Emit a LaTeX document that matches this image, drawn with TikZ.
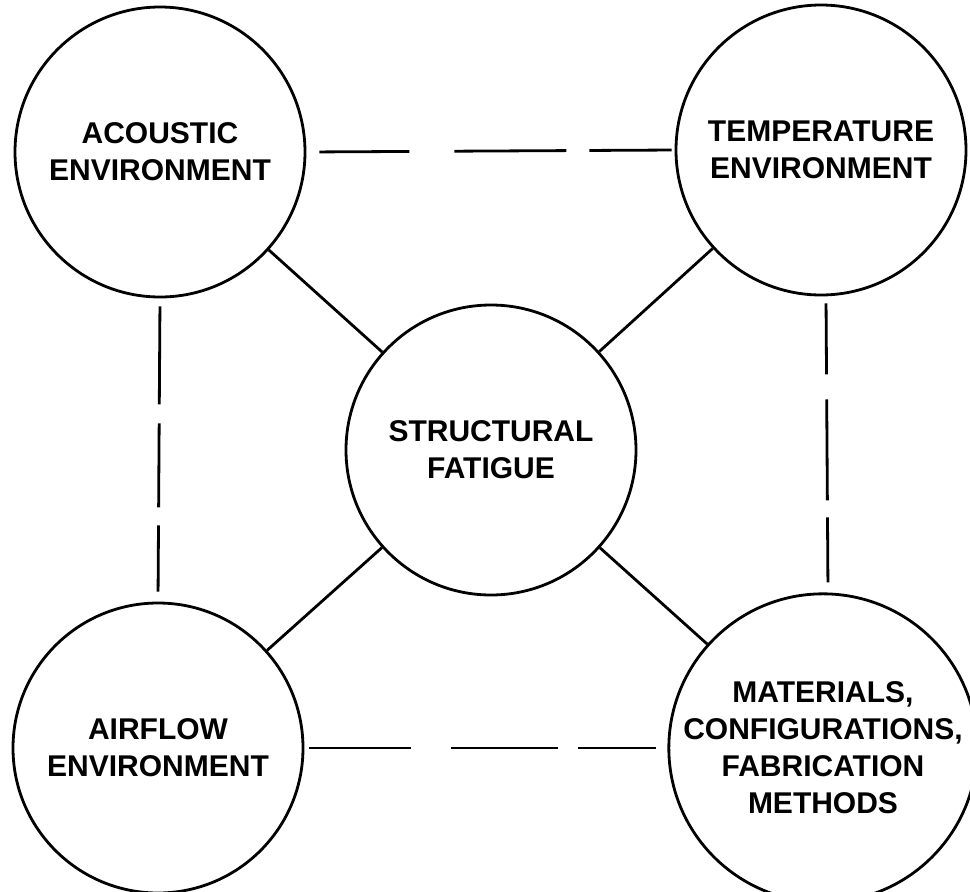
\documentclass[tikz,border=0pt]{standalone}
\usepackage{fontspec}
\setmainfont{Liberation Sans}
\begin{document}
\begin{tikzpicture}[x=1pt,y=-1pt,
  bubble/.style={draw,circle,line width=2.8pt,minimum size=290pt,inner sep=0pt,
    align=center,font=\bfseries\fontsize{30}{37}\selectfont},
  link/.style={line width=2.8pt},
  dlink/.style={line width=2.8pt}]
\useasboundingbox (0,0) rectangle (970,892);
\node[bubble] (ac) at (160,152) {ACOUSTIC\\ENVIRONMENT};
\node[bubble] (te) at (821,150) {TEMPERATURE\\ENVIRONMENT};
\node[bubble] (sf) at (491,450) {STRUCTURAL\\FATIGUE};
\node[bubble] (af) at (158,748) {AIRFLOW\\ENVIRONMENT};
\node[bubble] (ma) at (823,748) {MATERIALS,\\CONFIGURATIONS,\\FABRICATION\\METHODS};
\draw[link] (ac) -- (sf);
\draw[link] (te) -- (sf);
\draw[link] (af) -- (sf);
\draw[link] (ma) -- (sf);
\draw[dlink,shorten <=13pt,shorten >=3pt,dash pattern=on 90pt off 45pt on 112pt off 23pt on 300pt] (ac.east) -- (te.west);
\draw[dlink,shorten <=5pt,shorten >=11pt,dash pattern=on 102pt off 40pt on 107pt off 20pt on 300pt] (af.east) -- (ma.west);
\draw[dlink,shorten <=8pt,shorten >=10pt,dash pattern=on 98pt off 19pt on 84pt off 18pt on 300pt] (ac.south) -- (af.north);
\draw[dlink,shorten <=7pt,shorten >=10pt,dash pattern=on 71pt off 25pt on 101pt off 17pt on 300pt,transform canvas={xshift=5pt}] (te.south) -- (ma.north);
\end{tikzpicture}
\end{document}
